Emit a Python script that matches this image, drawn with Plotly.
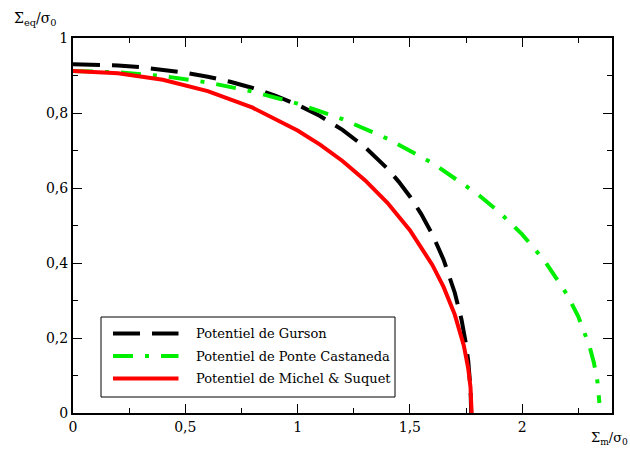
import plotly.graph_objects as go

# --- data ---
gurson_x = [0, 0.1, 0.2, 0.3, 0.4, 0.5, 0.6, 0.7, 0.8, 0.9, 1.0, 1.1, 1.2, 1.3, 1.4, 1.45,
            1.5, 1.55, 1.6, 1.65, 1.7, 1.73, 1.75, 1.76, 1.77, 1.773]
gurson_y = [0.930, 0.9291, 0.9266, 0.9222, 0.9159, 0.9075, 0.8968, 0.8834, 0.8668, 0.8466,
            0.8219, 0.7918, 0.7549, 0.7092, 0.6517, 0.6171, 0.5774, 0.5312, 0.4764, 0.4090,
            0.3208, 0.2488, 0.1831, 0.1378, 0.065, 0.0]

ponte_x = [0, 0.2, 0.4, 0.6, 0.8, 1.0, 1.2, 1.4, 1.6, 1.8, 1.9, 2.0, 2.1, 2.2, 2.25, 2.3,
           2.32, 2.335, 2.344]
ponte_y = [0.912, 0.9087, 0.8986, 0.8816, 0.8573, 0.8249, 0.7835, 0.7316, 0.6667, 0.5845,
           0.5345, 0.4762, 0.4059, 0.3157, 0.2570, 0.1778, 0.1328, 0.0841, 0.0266]

michel_x = [0, 0.2, 0.4, 0.6, 0.8, 1.0, 1.1, 1.2, 1.3, 1.4, 1.5, 1.6, 1.65, 1.7, 1.74,
            1.76, 1.77, 1.775]
michel_y = [0.912, 0.9062, 0.8885, 0.8583, 0.8141, 0.7535, 0.7158, 0.6720, 0.6210, 0.5606,
            0.4876, 0.3949, 0.3362, 0.2624, 0.1801, 0.1183, 0.0684, 0.0]

names = ["Potentiel de Gurson", "Potentiel de Ponte Castaneda", "Potentiel de Michel & Suquet"]
colors = ["#000000", "#00ee00", "#ff0000"]
dashes = ["27px,12px", "20px,12px,4px,12px", "solid"]

x_ticks = [0, 0.5, 1, 1.5, 2]
y_ticks = [0, 0.2, 0.4, 0.6, 0.8, 1]

FONT = "DejaVu Serif"

fig = go.Figure()
series = [(gurson_x, gurson_y), (ponte_x, ponte_y), (michel_x, michel_y)]
for (xs, ys), n, c, d in zip(series, names, colors, dashes):
    fig.add_trace(go.Scatter(x=xs, y=ys, mode="lines", name=n,
                             line=dict(color=c, width=4, dash=d), showlegend=False))

axis_common = dict(
    showgrid=False, zeroline=False, showline=True, linecolor="black", linewidth=2,
    mirror="allticks", ticks="inside", ticklen=9, tickwidth=1, tickcolor="black",
    tickfont=dict(family=FONT, size=14, color="black"),
)
fig.update_xaxes(range=[0, 2.4], tickvals=x_ticks,
                 minor=dict(ticks="inside", ticklen=5, tickwidth=1, tickcolor="black",
                            dtick=0.25, tick0=0, showgrid=False),
                 **axis_common)
fig.update_yaxes(range=[0, 1], tickvals=y_ticks,
                 minor=dict(ticks="inside", ticklen=5, tickwidth=1, tickcolor="black",
                            dtick=0.1, tick0=0, showgrid=False),
                 **axis_common)

W, H, L, T = 539.0, 375.0, 73.0, 38.0
def px(xp):
    return (xp - L) / W
def py(yp):
    return (T + H - yp) / H

# axis titles
fig.add_annotation(text="Σ<sub>eq</sub>/σ<sub>0</sub>", xref="paper", yref="paper",
                   x=px(12), y=py(19), xanchor="left", yanchor="middle", showarrow=False,
                   font=dict(family=FONT, size=14, color="black"))
fig.add_annotation(text="Σ<sub>m</sub>/σ<sub>0</sub>", xref="paper", yref="paper",
                   x=px(589), y=py(439), xanchor="left", yanchor="middle", showarrow=False,
                   font=dict(family=FONT, size=13, color="black"))

# legend box drawn manually (to match long line samples)
fig.add_shape(type="rect", xref="paper", yref="paper", x0=px(101), x1=px(395),
              y0=py(397), y1=py(317), line=dict(color="black", width=1),
              fillcolor="white", layer="above")
rows = [333.5, 356, 378.5]
for n, c, d, r in zip(names, colors, dashes, rows):
    fig.add_shape(type="line", xref="paper", yref="paper", x0=px(113), x1=px(178.5),
                  y0=py(r), y1=py(r), line=dict(color=c, width=4, dash=d), layer="above")
    fig.add_annotation(text=n, xref="paper", yref="paper", x=px(194), y=py(r),
                       xanchor="left", yanchor="middle", showarrow=False,
                       font=dict(family=FONT, size=13, color="black"))

fig.update_layout(
    width=630, height=449, margin=dict(l=73, r=18, t=38, b=36),
    paper_bgcolor="white", plot_bgcolor="white", separators=", ",
    showlegend=False,
)
fig.write_html("out.html", config={"displayModeBar": False},
               post_script="document.body.style.margin='0';document.body.style.overflow='hidden';")
